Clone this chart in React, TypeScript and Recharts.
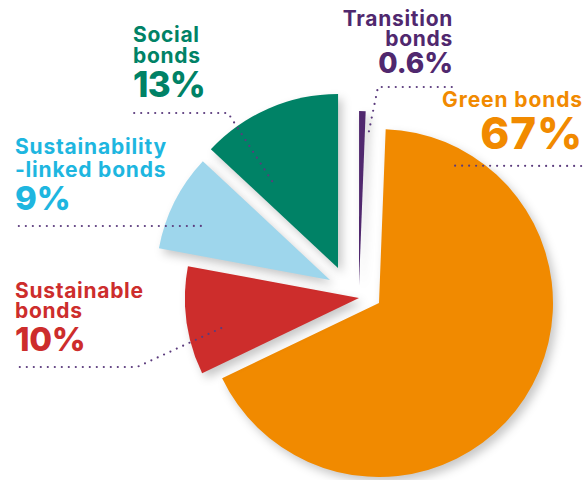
import React from 'react';
import { PieChart, Pie, Cell } from 'recharts';

// shares in %, clockwise from 12 o'clock
const NAMES = ['Green bonds', 'Sustainable bonds', 'Sustainability-linked bonds', 'Social bonds', 'Transition bonds'];
const SHARES = [67, 10, 9, 13, 0.6];
const PCT_LABELS = ['67%', '10%', '9%', '13%', '0.6%'];
const NAME_LINES = [['Green bonds'], ['Sustainable', 'bonds'], ['Sustainability', '-linked bonds'], ['Social', 'bonds'], ['Transition', 'bonds']];

const SLICE_COLORS = ['#F18A00', '#CD2D2C', '#9ED6EC', '#008266', '#50286E'];
const TEXT_COLORS = ['#F18A00', '#CD2D2C', '#1EB6E0', '#008266', '#50286E'];
const DOT_COLOR = '#5B3B7D';
const FONT = "Inter, 'Noto Sans', sans-serif";

// exploded offset of each slice (px)
const OFFSETS = [[0, 0], [-20, -5], [-49, -23], [-41, -35], [-20, -18]];

// label layout: text anchor, baselines, leader tip (polar from slice centre) then leader points
const LAYOUT = [
  { x: 583, anchor: 'end', lines: [107], nameSize: 21, nameLs: 0.9, pctY: 149, pctSize: 44, pctLs: 0.8, tip: [61, 157], pts: [[585, 166]] },
  { x: 15, anchor: 'start', lines: [298, 318], nameSize: 21, nameLs: 0.7, pctY: 351, pctSize: 33, pctLs: -0.3, tip: [192.3, 141], pts: [[137, 367], [15, 367]] },
  { x: 15, anchor: 'start', lines: [154, 177], nameSize: 21, nameLs: 0.8, pctY: 210, pctSize: 33, pctLs: 0, tip: [157.3, 140], pts: [[15, 226]] },
  { x: 133, anchor: 'start', lines: [42, 63], nameSize: 21, nameLs: 0.7, pctY: 97, pctSize: 35, pctLs: -0.8, tip: [127.2, 109], pts: [[228, 113], [133, 113]] },
  { x: 453, anchor: 'end', lines: [26, 46], nameSize: 21, nameLs: 0.7, pctY: 73, pctSize: 28, pctLs: 0, tip: [86.3, 154], pts: [[378, 87], [455, 87]] },
];

const data = NAMES.map((name, i) => ({ name, value: SHARES[i], idx: i }));

const RAD = Math.PI / 180;

const ExplodedSector = (props: any) => {
  const { cx, cy, outerRadius, startAngle, endAngle, fill } = props;
  const i = props.payload?.idx ?? props.idx ?? 0;
  const ox = cx + OFFSETS[i][0];
  const oy = cy + OFFSETS[i][1];
  const x1 = ox + outerRadius * Math.cos(startAngle * RAD);
  const y1 = oy - outerRadius * Math.sin(startAngle * RAD);
  const x2 = ox + outerRadius * Math.cos(endAngle * RAD);
  const y2 = oy - outerRadius * Math.sin(endAngle * RAD);
  const large = Math.abs(startAngle - endAngle) > 180 ? 1 : 0;
  const sweep = startAngle > endAngle ? 1 : 0;
  const d = `M${ox},${oy} L${x1},${y1} A${outerRadius},${outerRadius} 0 ${large} ${sweep} ${x2},${y2} Z`;
  return <path d={d} fill={fill} stroke="none" style={{ filter: 'drop-shadow(4px 5px 5px rgba(0,0,0,0.22))' }} />;
};

const renderLabel = (props: any) => {
  const { cx, cy, index } = props;
  const L = LAYOUT[index];
  const ox = cx + OFFSETS[index][0];
  const oy = cy + OFFSETS[index][1];
  const tx = ox + L.tip[1] * Math.cos(L.tip[0] * RAD);
  const ty = oy - L.tip[1] * Math.sin(L.tip[0] * RAD);
  const pts = [[tx, ty], ...L.pts].map((p) => p.join(',')).join(' ');
  const color = TEXT_COLORS[index];
  return (
    <g key={`lbl-${index}`}>
      <polyline points={pts} fill="none" stroke={DOT_COLOR} strokeWidth={2.2} strokeDasharray="0 7" strokeLinecap="round" />
      <text textAnchor={L.anchor} fill={color} fontFamily={FONT} fontWeight={700}>
        {NAME_LINES[index].map((t, k) => (
          <tspan key={k} x={L.x} y={L.lines[k]} fontSize={L.nameSize} letterSpacing={L.nameLs}>
            {t}
          </tspan>
        ))}
        <tspan x={L.x} y={L.pctY} fontSize={L.pctSize} fontWeight={800} letterSpacing={L.pctLs}>
          {PCT_LABELS[index]}
        </tspan>
      </text>
    </g>
  );
};

export default function App() {
  return (
    <div style={{ position: 'absolute', left: 0, top: 0, width: 588, height: 480, background: '#fff' }}>
      <PieChart width={588} height={480} margin={{ top: 0, right: 0, bottom: 0, left: 0 }}>
        <Pie
          data={data}
          dataKey="value"
          nameKey="name"
          cx={379}
          cy={303}
          innerRadius={0}
          outerRadius={174}
          startAngle={87.8}
          endAngle={-272.2}
          stroke="none"
          shape={ExplodedSector}
          label={renderLabel}
          labelLine={false}
          isAnimationActive={false}
        >
          {data.map((d, i) => (
            <Cell key={d.name} fill={SLICE_COLORS[i]} />
          ))}
        </Pie>
      </PieChart>
    </div>
  );
}
